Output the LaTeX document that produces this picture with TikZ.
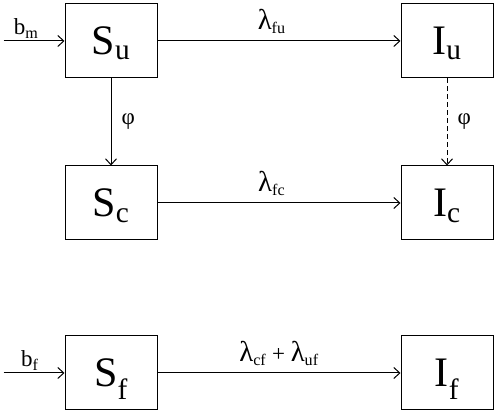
\documentclass[tikz,border=0pt]{standalone}
\usepackage{fontspec}
\setmainfont{Liberation Serif}
\usetikzlibrary{arrows.meta, positioning}
\newcommand{\lmb}{\scalebox{1.25}{λ}}
\tikzset{
  every picture/.style={line width=1pt, >={Straight Barb[length=6pt, width=11pt]}},
  box/.style={draw, minimum width=92pt, minimum height=74pt, inner sep=0pt, text height=28pt, text depth=0pt, font=\fontsize{42}{44}\selectfont},
  arrow/.style={->},
  rate/.style={font=\fontsize{23}{25}\selectfont, inner sep=2pt},
}
\begin{document}
\begin{tikzpicture}[x=1pt, y=1pt]
  \useasboundingbox (0,0) rectangle (498,412);
  % compartments
  \node[box] (Su) at (111,371) {S\textsubscript{u}};
  \node[box, right=243pt of Su] (Iu) {I\textsubscript{u}};
  \node[box, below=87pt of Su] (Sc) {S\textsubscript{c}};
  \node[box, right=243pt of Sc] (Ic) {I\textsubscript{c}};
  \node[box, below=95pt of Sc] (Sf) {S\textsubscript{f}};
  \node[box, right=243pt of Sf] (If) {I\textsubscript{f}};
  % births
  \coordinate[left=61pt of Su.west] (inm);
  \coordinate[left=61pt of Sf.west] (inf);
  \draw[arrow] (inm) -- node[rate, above, pos=0.37] {b\textsubscript{m}} (Su);
  \draw[arrow] (inf) -- node[rate, above, pos=0.43] {b\textsubscript{f}} (Sf);
  % flows
  \draw[arrow] (Su) -- node[rate, above=5pt, pos=0.47] {\lmb\textsubscript{fu}} (Iu);
  \draw[arrow] (Sc) -- node[rate, above=5pt, pos=0.47] {\lmb\textsubscript{fc}} (Ic);
  \draw[arrow] (Sf) -- node[rate, above=5pt] {\lmb\textsubscript{cf} + \lmb\textsubscript{uf}} (If);
  \draw[arrow] (Su) -- node[rate, right=8pt] {φ} (Sc);
  \draw[arrow, dash pattern=on 5pt off 3pt] (Iu) -- node[rate, right=8pt] {φ} (Ic);
\end{tikzpicture}
\end{document}
